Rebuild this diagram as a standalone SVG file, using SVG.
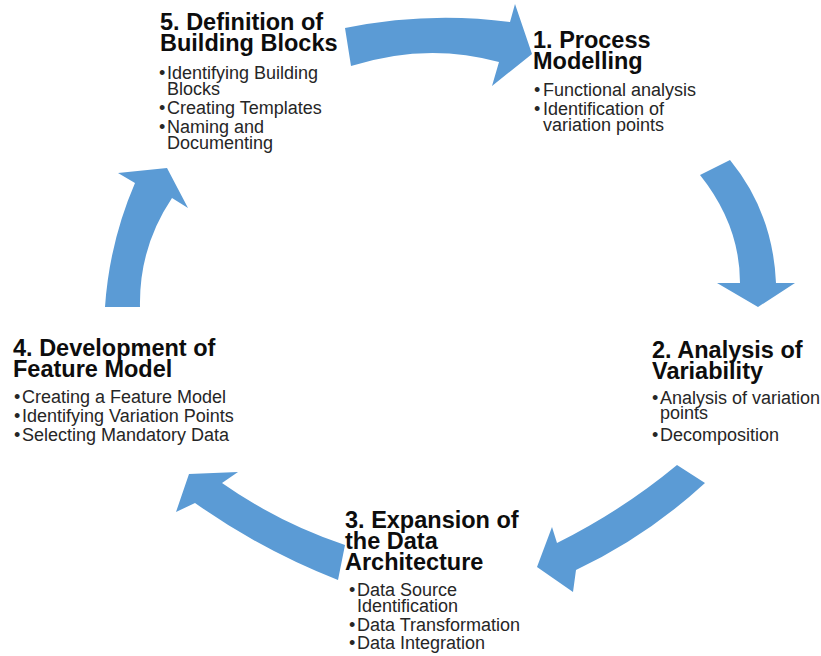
<svg xmlns="http://www.w3.org/2000/svg" width="821" height="656" viewBox="0 0 821 656">
  <style>
    .arrow { fill: #5B9BD5; stroke: none; }
    .title { font-family: "Liberation Sans", Arial, sans-serif; font-weight: bold; font-size: 23.5px; fill: #0d0d0d; }
    .item { font-family: "Liberation Sans", Arial, sans-serif; font-size: 18px; fill: #262626; }
  </style>
  <rect width="821" height="656" fill="#ffffff"/>

  <!-- curved block arrows of the cycle -->
  <g id="connectors">
    <path id="arrow-5-1" class="arrow" d="M345,28 Q428,11 510,22 L515,4 L532,54 L492,86 L499,62 Q426.5,42 351,66 Z"/>
    <path id="arrow-1-2" class="arrow" d="M730,160 Q773,212.5 776,283 L795,283 L758,307 L717,283 L740,283 Q740,225 700,175 Z"/>
    <path id="arrow-2-3" class="arrow" d="M677,465 Q622,510.6 557,543 L552,527 L537,567 L573,592 L576,570 Q646.8,536.5 705,483 Z"/>
    <path id="arrow-3-4" class="arrow" d="M345,545 Q279,523 222,483 L238,472 L189,474 L176,512 L195,503 Q261.8,550.3 338,580 Z"/>
    <path id="arrow-4-5" class="arrow" d="M105,307 Q109.4,242.4 135,183 L118,173 L167,168 L188,208 L172,198 Q138.8,247.5 140,307 Z"/>
  </g>

  <!-- step 1 -->
  <g id="node-1">
    <text class="title" x="533" y="48">1. Process</text>
    <text class="title" x="533" y="69">Modelling</text>
    <text class="item" x="534" y="96">•</text>
    <text class="item" x="543" y="96">Functional analysis</text>
    <text class="item" x="534" y="115">•</text>
    <text class="item" x="543" y="115">Identification of</text>
    <text class="item" x="543" y="131">variation points</text>
  </g>

  <!-- step 2 -->
  <g id="node-2">
    <text class="title" x="652" y="358">2. Analysis of</text>
    <text class="title" x="652" y="379">Variability</text>
    <text class="item" x="652" y="404">•</text>
    <text class="item" x="660" y="404">Analysis of variation</text>
    <text class="item" x="660" y="419">points</text>
    <text class="item" x="652" y="441">•</text>
    <text class="item" x="660" y="441">Decomposition</text>
  </g>

  <!-- step 3 -->
  <g id="node-3">
    <text class="title" x="345" y="528">3. Expansion of</text>
    <text class="title" x="345" y="549">the Data</text>
    <text class="title" x="345" y="570">Architecture</text>
    <text class="item" x="349" y="596">•</text>
    <text class="item" x="357" y="596">Data Source</text>
    <text class="item" x="357" y="612">Identification</text>
    <text class="item" x="349" y="631">•</text>
    <text class="item" x="357" y="631">Data Transformation</text>
    <text class="item" x="349" y="649">•</text>
    <text class="item" x="357" y="649">Data Integration</text>
  </g>

  <!-- step 4 -->
  <g id="node-4">
    <text class="title" x="13" y="356">4. Development of</text>
    <text class="title" x="13" y="377">Feature Model</text>
    <text class="item" x="14" y="403">•</text>
    <text class="item" x="22" y="403">Creating a Feature Model</text>
    <text class="item" x="14" y="422">•</text>
    <text class="item" x="22" y="422">Identifying Variation Points</text>
    <text class="item" x="14" y="441">•</text>
    <text class="item" x="22" y="441">Selecting Mandatory Data</text>
  </g>

  <!-- step 5 -->
  <g id="node-5">
    <text class="title" x="160" y="30">5. Definition of</text>
    <text class="title" x="160" y="51">Building Blocks</text>
    <text class="item" x="159" y="79">•</text>
    <text class="item" x="167" y="79">Identifying Building</text>
    <text class="item" x="167" y="95">Blocks</text>
    <text class="item" x="159" y="114">•</text>
    <text class="item" x="167" y="114">Creating Templates</text>
    <text class="item" x="159" y="133">•</text>
    <text class="item" x="167" y="133">Naming and</text>
    <text class="item" x="167" y="149">Documenting</text>
  </g>
</svg>
